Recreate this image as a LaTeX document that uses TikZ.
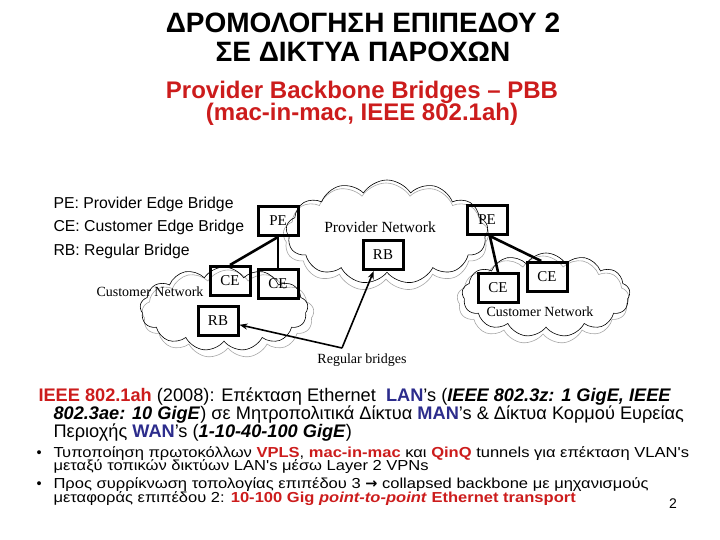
\documentclass[tikz,border=0pt]{standalone}
\usepackage{fontspec}
\setmainfont{Liberation Sans}
\newfontfamily\netfont{Liberation Serif}
\newfontfamily\symfont{DejaVu Sans}
\newfontfamily\widefont[FakeStretch=1.14]{Liberation Sans}
\usetikzlibrary{shapes.symbols,arrows.meta}
\definecolor{pbred}{RGB}{204,28,28}
\definecolor{lanblue}{RGB}{44,44,140}

\begin{document}
\begin{tikzpicture}[x=1pt,y=-1pt,
    bridge/.style={draw,line width=3pt,minimum width=40pt,minimum height=29pt,inner sep=0pt,font=\netfont\fontsize{15}{15}\selectfont},
    net/.style={cloud,cloud puffs=13,cloud puff arc=115,aspect=2,inner sep=0pt,draw=black,line width=0.6pt},
    netshade/.style={net,draw=black!35},
    link/.style={line width=2.6pt},
    pointer/.style={line width=1.6pt,-{Stealth[length=8pt,width=6pt]}},
    netlabel/.style={font=\netfont\fontsize{14}{14}\selectfont,inner sep=0pt},
    legline/.style={anchor=base west,font=\fontsize{15.8}{15.8}\selectfont},
    mainline/.style={anchor=base west,font=\fontsize{18.2}{18.2}\selectfont},
    bulletline/.style={anchor=base west,font=\widefont\fontsize{14.5}{14.5}\selectfont}]
  \useasboundingbox (0,0) rectangle (720,540);

  % Title
  \node[anchor=base,font=\bfseries\fontsize{28}{28}\selectfont] (title1) at (363,33) {ΔΡΟΜΟΛΟΓΗΣΗ ΕΠΙΠΕΔΟΥ 2};
  \node[anchor=base,font=\bfseries\fontsize{28}{28}\selectfont] (title2) at (363,62) {ΣΕ ΔΙΚΤΥΑ ΠΑΡΟΧΩΝ};
  \node[anchor=base,pbred,font=\bfseries\fontsize{24}{24}\selectfont] (sub1) at (362,99) {Provider Backbone Bridges -- PBB};
  \node[anchor=base,pbred,font=\bfseries\fontsize{24}{24}\selectfont] (sub2) at (362,121) {(mac-in-mac, IEEE 802.1ah)};

  % Legend
  \node[legline] (leg1) at (50,209) {PE: Provider Edge Bridge};
  \node[legline] (leg2) at (50,232) {CE: Customer Edge Bridge};
  \node[legline] (leg3) at (50,255) {RB: Regular Bridge};

  % Clouds
  \node[netshade,minimum width=172pt,minimum height=88pt] (custLs) at (228,314) {};
  \node[net,minimum width=168pt,minimum height=84pt] (custL) at (224,309) {};
  \node[netshade,minimum width=206pt,minimum height=108pt] (provs) at (386,237) {};
  \node[net,minimum width=202pt,minimum height=104pt] (prov) at (387,232) {};
  \node[netshade,minimum width=172pt,minimum height=88pt] (custRs) at (543,300) {};
  \node[net,minimum width=168pt,minimum height=84pt] (custR) at (546,295) {};

  % Network labels
  \node[netlabel] (custLlab) at (150,292) {Customer Network};
  \node[netlabel,font=\netfont\fontsize{15.5}{15.5}\selectfont] (provlab) at (380,227) {Provider Network};
  \node[netlabel] (custRlab) at (540,312) {Customer Network};

  % Bridges
  \node[bridge] (peL) at (278,221) {PE};
  \node[bridge] (ceL1) at (230,281) {CE};
  \node[bridge] (ceL2) at (278,284) {CE};
  \node[bridge] (rbL) at (218,321) {RB};
  \node[bridge] (rbM) at (383,255) {RB};
  \node[bridge] (peR) at (487,220) {PE};
  \node[bridge] (ceR1) at (498,288) {CE};
  \node[bridge] (ceR2) at (547,277) {CE};

  % Links
  \draw[link] (peL.south) -- (ceL1.north);
  \draw[link] (peL.south) -- (ceL2.north);
  \draw[link] (peR.-80) -- (ceR1.north);
  \draw[link] (peR.-80) -- (ceR2.110);

  % Regular bridges pointers
  \coordinate (apex) at (342,348);
  \draw[pointer] (apex) -- (rbL.-10);
  \draw[pointer] (apex) -- (rbM.-120);
  \node[netlabel] (rblab) at (362,360) {Regular bridges};

  % Text
  \node[mainline] (txt1) at (35,401) {\textcolor{pbred}{\textbf{IEEE 802.1ah}} (2008): Επέκταση Ethernet\ \ \textcolor{lanblue}{\textbf{LAN}}'s (\textbf{\textit{IEEE 802.3z: 1 GigE, IEEE}}};
  \node[mainline] (txt2) at (50,419) {\textbf{\textit{802.3ae: 10 GigE}}) σε Μητροπολιτικά Δίκτυα \textcolor{lanblue}{\textbf{MAN}}'s \& Δίκτυα Κορμού Ευρείας};
  \node[mainline] (txt3) at (50,437) {Περιοχής \textcolor{lanblue}{\textbf{WAN}}'s (\textbf{\textit{1-10-40-100 GigE}})};

  \node[bulletline,font=\fontsize{14.5}{14.5}\selectfont] (dot1) at (33,457) {•};
  \node[bulletline] (b1a) at (50,457) {Τυποποίηση πρωτοκόλλων \textcolor{pbred}{\textbf{VPLS}}, \textcolor{pbred}{\textbf{mac-in-mac}} και \textcolor{pbred}{\textbf{QinQ}} tunnels για επέκταση VLAN's};
  \node[bulletline] (b1b) at (50,470) {μεταξύ τοπικών δικτύων LAN's μέσω Layer 2 VPNs};
  \node[bulletline,font=\fontsize{14.5}{14.5}\selectfont] (dot2) at (33,488) {•};
  \node[bulletline] (b2a) at (50,488) {Προς συρρίκνωση τοπολογίας επιπέδου 3 {\symfont\bfseries →} collapsed backbone με μηχανισμούς};
  \node[bulletline] (b2b) at (50,502) {μεταφοράς επιπέδου 2: \textcolor{pbred}{\textbf{10-100 Gig \textit{point-to-point} Ethernet transport}}};
  \node[anchor=base,font=\fontsize{14}{14}\selectfont] (pagenum) at (673,508) {2};
\end{tikzpicture}
\end{document}
